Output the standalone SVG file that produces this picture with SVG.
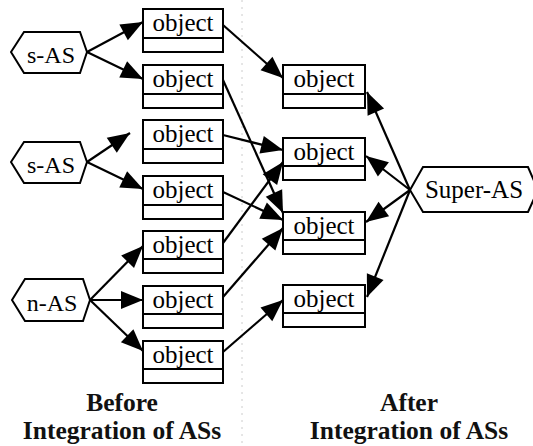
<svg xmlns="http://www.w3.org/2000/svg" width="533" height="446" viewBox="0 0 533 446">
<style>
.box{fill:#fff;stroke:#000;stroke-width:2}
.hex{fill:#fff;stroke:#000;stroke-width:2}
.t{font-family:"Liberation Serif","Times New Roman",serif;font-size:24px;fill:#000;text-anchor:middle}
.o{font-size:25px}
.cap{font-family:"Liberation Serif","Times New Roman",serif;font-size:25.5px;font-weight:bold;fill:#111;text-anchor:middle}
.c{stroke:#000;stroke-width:2.2;fill:none;marker-end:url(#ah)}
</style>
<defs>
<marker id="ah" markerUnits="userSpaceOnUse" markerWidth="22" markerHeight="18" refX="22" refY="9" orient="auto" overflow="visible">
<path d="M0,0 L22,9 L0,18 z" fill="#000"/>
</marker>
</defs>
<rect width="533" height="446" fill="#fff"/>
<line x1="242" y1="0" x2="242" y2="446" stroke="#ccc" stroke-width="1" stroke-dasharray="2,5"/>

<g id="connectors">
<line class="c" x1="87" y1="52" x2="143" y2="22"/>
<line class="c" x1="87" y1="52" x2="143" y2="79"/>
<line class="c" x1="87" y1="162" x2="130" y2="133"/>
<line class="c" x1="87" y1="162" x2="143" y2="189"/>
<line class="c" x1="90" y1="300" x2="143" y2="246"/>
<line class="c" x1="90" y1="300" x2="143" y2="300"/>
<line class="c" x1="90" y1="300" x2="143" y2="351"/>
<line class="c" x1="223" y1="25" x2="283" y2="78"/>
<line class="c" x1="223" y1="80" x2="283" y2="213"/>
<line class="c" x1="223" y1="135" x2="283" y2="150"/>
<line class="c" x1="223" y1="192" x2="283" y2="220"/>
<line class="c" x1="223" y1="243" x2="283" y2="162"/>
<line class="c" x1="223" y1="297" x2="283" y2="228"/>
<line class="c" x1="223" y1="352" x2="283" y2="300"/>
<line class="c" x1="410" y1="190" x2="367" y2="92"/>
<line class="c" x1="410" y1="190" x2="366" y2="156"/>
<line class="c" x1="410" y1="190" x2="366" y2="222"/>
<line class="c" x1="410" y1="190" x2="367" y2="297"/>
</g>

<g id="sas1">
<polygon class="hex" points="11,52 24,32 80,32 87,52 80,73 24,73"/>
<text class="t" x="51" y="63">s-AS</text>
</g>
<g id="sas2">
<polygon class="hex" points="11,162 24,142 80,142 87,162 80,183 24,183"/>
<text class="t" x="51" y="173">s-AS</text>
</g>
<g id="nas">
<polygon class="hex" points="12,300 25,279 83,279 90,300 83,321 25,321"/>
<text class="t" x="52" y="311">n-AS</text>
</g>
<g id="superas">
<polygon class="hex" points="410,190 423,167 528,167 538,190 528,212 423,212"/>
<text class="t" x="474" y="198" style="font-size:25px">Super-AS</text>
</g>

<g id="L1"><rect class="box" x="143" y="9" width="80" height="43"/><line x1="143" y1="38" x2="223" y2="38" stroke="#000" stroke-width="2"/><text class="t o" x="183" y="31">object</text></g>
<g id="L2"><rect class="box" x="143" y="65" width="80" height="43"/><line x1="143" y1="94" x2="223" y2="94" stroke="#000" stroke-width="2"/><text class="t o" x="183" y="87">object</text></g>
<g id="L3"><rect class="box" x="143" y="120" width="80" height="43"/><line x1="143" y1="149" x2="223" y2="149" stroke="#000" stroke-width="2"/><text class="t o" x="183" y="142">object</text></g>
<g id="L4"><rect class="box" x="143" y="176" width="80" height="43"/><line x1="143" y1="205" x2="223" y2="205" stroke="#000" stroke-width="2"/><text class="t o" x="183" y="198">object</text></g>
<g id="L5"><rect class="box" x="143" y="231" width="80" height="42"/><line x1="143" y1="259" x2="223" y2="259" stroke="#000" stroke-width="2"/><text class="t o" x="183" y="253">object</text></g>
<g id="L6"><rect class="box" x="143" y="286" width="80" height="42"/><line x1="143" y1="314" x2="223" y2="314" stroke="#000" stroke-width="2"/><text class="t o" x="183" y="308">object</text></g>
<g id="L7"><rect class="box" x="143" y="341" width="80" height="42"/><line x1="143" y1="369" x2="223" y2="369" stroke="#000" stroke-width="2"/><text class="t o" x="183" y="363">object</text></g>

<g id="R1"><rect class="box" x="283" y="65" width="82" height="43"/><line x1="283" y1="94" x2="365" y2="94" stroke="#000" stroke-width="2"/><text class="t o" x="324" y="87">object</text></g>
<g id="R2"><rect class="box" x="283" y="138" width="82" height="42"/><line x1="283" y1="166" x2="365" y2="166" stroke="#000" stroke-width="2"/><text class="t o" x="324" y="160">object</text></g>
<g id="R3"><rect class="box" x="283" y="212" width="82" height="42"/><line x1="283" y1="240" x2="365" y2="240" stroke="#000" stroke-width="2"/><text class="t o" x="324" y="234">object</text></g>
<g id="R4"><rect class="box" x="283" y="285" width="82" height="42"/><line x1="283" y1="313" x2="365" y2="313" stroke="#000" stroke-width="2"/><text class="t o" x="324" y="307">object</text></g>

<g id="captions">
<text class="cap" x="122" y="411">Before</text>
<text class="cap" x="122" y="439">Integration of ASs</text>
<text class="cap" x="409" y="411">After</text>
<text class="cap" x="409" y="439">Integration of ASs</text>
</g>
</svg>
